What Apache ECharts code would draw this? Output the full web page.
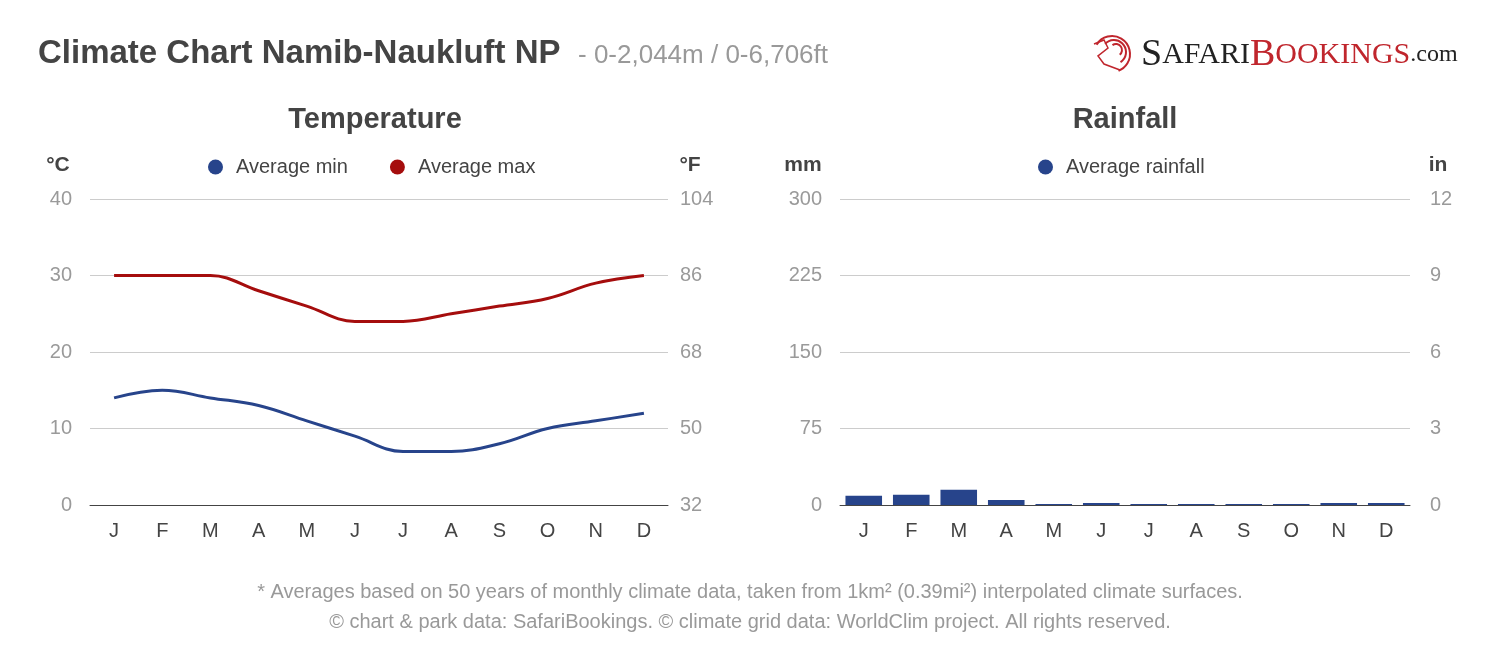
<!DOCTYPE html>
<html><head><meta charset="utf-8">
<script src="https://cdn.jsdelivr.net/npm/echarts@6/dist/echarts.min.js"></script>
<style>html,body{margin:0;padding:0;background:#fff}#c{width:1500px;height:652px}</style>
</head><body><div id="c"></div>
<script>
const months = ['J','F','M','A','M','J','J','A','S','O','N','D'];
const monthKeys = ['Jan','Feb','Mar','Apr','May','Jun','Jul','Aug','Sep','Oct','Nov','Dec'];
const avgMin = [14, 15, 14, 13, 11, 9, 7, 7, 8, 10, 11, 12];
const avgMax = [30, 30, 30, 28, 26, 24, 24, 25, 26, 27, 29, 30];
const rainfall = [9, 10, 15, 5, 1, 2, 1, 1, 1, 1, 2, 2];
const cTicks = [0, 10, 20, 30, 40];
const fTicks = [32, 50, 68, 86, 104];
const mmTicks = [0, 75, 150, 225, 300];
const inTicks = [0, 3, 6, 9, 12];

const FONT = 'Liberation Sans, Arial, sans-serif';
const SERIF = 'Liberation Serif, serif';
const BLUE = '#27448b';
const RED = '#a50d0d';
const chart = echarts.init(document.getElementById('c'), null, {renderer:'canvas'});

function yAx(gridIndex, ticks, pos, labels, margin){
  return {
    type:'value', gridIndex, position:pos, min:ticks[0], max:ticks[ticks.length-1],
    interval: ticks[1]-ticks[0],
    axisLine:{show:false}, axisTick:{show:false},
    splitLine:{show: pos==='left', lineStyle:{color:'#cccccc', width:1}},
    axisLabel:{color:'#9a9a9a', fontSize:20, fontFamily:FONT, margin,
      formatter:(v)=>{const i=ticks.indexOf(v); return i>=0? String(labels[i]) : '';}}
  };
}
function xAx(gridIndex){
  return {
    type:'category', gridIndex, data: monthKeys, boundaryGap:true,
    axisLine:{show:true, lineStyle:{color:'#444', width:1}},
    axisTick:{show:false},
    axisLabel:{color:'#444', fontSize:20, fontFamily:FONT, margin:16,
      formatter:(v, i)=>months[i]}
  };
}

const texts = [
  {t:'Climate Chart Namib-Naukluft NP', x:38, y:54, s:33, w:'bold', c:'#444', a:'left'},
  {t:'- 0-2,044m / 0-6,706ft', x:578, y:56, s:26, w:'normal', c:'#999', a:'left'},
  {t:'Temperature', x:375, y:120, s:29, w:'bold', c:'#444', a:'center'},
  {t:'Rainfall', x:1125, y:120, s:29, w:'bold', c:'#444', a:'center'},
  {t:'°C', x:58, y:165, s:21, w:'bold', c:'#444', a:'center'},
  {t:'°F', x:690, y:165, s:21, w:'bold', c:'#444', a:'center'},
  {t:'mm', x:803, y:165, s:21, w:'bold', c:'#444', a:'center'},
  {t:'in', x:1438, y:165, s:21, w:'bold', c:'#444', a:'center'},
  {t:'* Averages based on 50 years of monthly climate data, taken from 1km² (0.39mi²) interpolated climate surfaces.', x:750, y:592, s:20, w:'normal', c:'#999', a:'center'},
  {t:'© chart & park data: SafariBookings. © climate grid data: WorldClim project. All rights reserved.', x:750, y:622, s:20, w:'normal', c:'#999', a:'center'}
];
const graphics = texts.map(o=>({type:'text', style:{text:o.t, x:o.x, y:o.y, fontSize:o.s, fontWeight:o.w, fill:o.c, fontFamily:FONT, textAlign:o.a, textVerticalAlign:'middle'}}));
graphics.push({
  type:'text', style:{
    x:1141, y:55, textVerticalAlign:'middle', textAlign:'left',
    rich:{
      b:{fontFamily:SERIF, fontSize:38, fill:'#222'},
      s:{fontFamily:SERIF, fontSize:30, fill:'#222'},
      rb:{fontFamily:SERIF, fontSize:38, fill:'#c0262d'},
      rs:{fontFamily:SERIF, fontSize:30, fill:'#c0262d'},
      c:{fontFamily:SERIF, fontSize:24, fill:'#222'}
    },
    text:'{b|S}{s|AFARI}{rb|B}{rs|OOKINGS}{c|.com}'
  }
});
// simple lion mark
graphics.push({type:'group', children:[
  {type:'arc', shape:{cx:1112, cy:54, r:18, startAngle:-2.6, endAngle:1.2}, style:{stroke:'#c0262d', lineWidth:2, fill:null}},
  {type:'arc', shape:{cx:1114, cy:52, r:12, startAngle:-2.4, endAngle:1.0}, style:{stroke:'#c0262d', lineWidth:2, fill:null}},
  {type:'arc', shape:{cx:1116, cy:50, r:6, startAngle:-2.2, endAngle:0.9}, style:{stroke:'#c0262d', lineWidth:2, fill:null}},
  {type:'polyline', shape:{points:[[1094,44],[1104,40],[1108,48],[1098,56],[1104,64],[1120,70]]}, style:{stroke:'#c0262d', lineWidth:1.5, fill:null}}
]});

chart.setOption({
  animation:false,
  textStyle:{fontFamily:FONT},
  grid:[
    {left:90, right:832, top:199, bottom:147},
    {left:840, right:90, top:199, bottom:147}
  ],
  legend:[
    {data:['Average min','Average max'], left:203, top:152, itemWidth:15, itemHeight:15, itemGap:42,
      icon:'circle', textStyle:{fontSize:20, color:'#444', fontFamily:FONT, padding:[0,0,0,8]}},
    {data:['Average rainfall'], left:1033, top:152, itemWidth:15, itemHeight:15,
      icon:'circle', textStyle:{fontSize:20, color:'#444', fontFamily:FONT, padding:[0,0,0,8]}}
  ],
  xAxis:[xAx(0), xAx(1)],
  yAxis:[
    yAx(0, cTicks, 'left', cTicks, 18),
    yAx(0, cTicks, 'right', fTicks, 12),
    yAx(1, mmTicks, 'left', mmTicks, 18),
    yAx(1, mmTicks, 'right', inTicks, 20)
  ],
  graphic: graphics,
  series:[
    {name:'Average min', type:'line', xAxisIndex:0, yAxisIndex:0, data:avgMin, smooth:0.4,
      symbol:'none', lineStyle:{color:BLUE, width:3}, itemStyle:{color:BLUE}},
    {name:'Average max', type:'line', xAxisIndex:0, yAxisIndex:0, data:avgMax, smooth:0.4,
      symbol:'none', lineStyle:{color:RED, width:3}, itemStyle:{color:RED}},
    {name:'Average rainfall', type:'bar', xAxisIndex:1, yAxisIndex:2, data:rainfall,
      barWidth:'77%', itemStyle:{color:BLUE}}
  ]
});
</script></body></html>
